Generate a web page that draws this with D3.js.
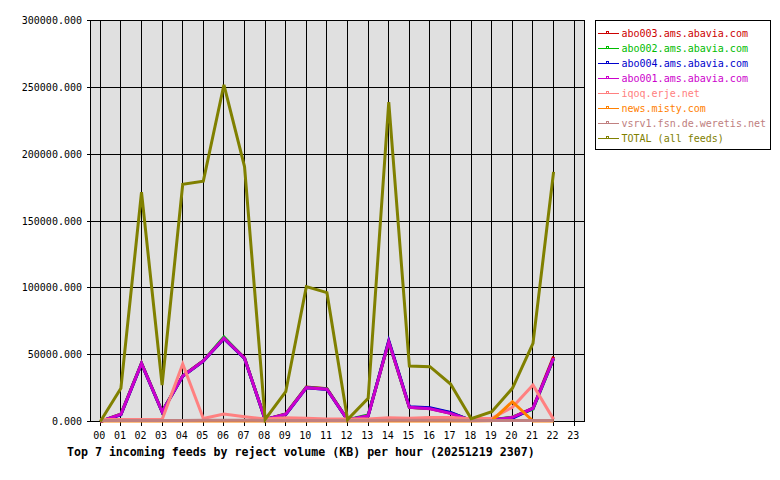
<!DOCTYPE html>
<html>
<head>
<meta charset="utf-8">
<script src="https://cdn.jsdelivr.net/npm/d3@7"></script>
<style>
  html, body { margin: 0; padding: 0; background: #fff; }
  svg { display: block; }
  text { font-family: "DejaVu Sans Mono", "Liberation Mono", monospace; }
</style>
</head>
<body>
<svg id="chart" width="780" height="480"></svg>
<script>
// ---- data ----
const hours = ["00","01","02","03","04","05","06","07","08","09","10","11","12","13","14","15","16","17","18","19","20","21","22","23"];
const feedNames = ["abo003.ams.abavia.com","abo002.ams.abavia.com","abo004.ams.abavia.com","abo001.ams.abavia.com","iqoq.erje.net","news.misty.com","vsrv1.fsn.de.weretis.net","TOTAL (all feeds)"];
const feedColors = ["#cc0000","#00bb00","#0000cc","#cc00cc","#ff8080","#ff8000","#c08080","#808000"];
const yTicks = [0, 50000, 100000, 150000, 200000, 250000, 300000];

const abo003 = [0, 5400, 43600, 7300, 34200, 45500, 62300, 47600, 1500, 5600, 25800, 24500, 1200, 4400, 59800, 10700, 9700, 6200, 800, 1200, 3100, 10000, 48500];
const abo002 = [0, 5500, 43500, 7400, 34000, 45300, 63200, 47100, 1600, 5500, 25500, 24300, 1300, 4800, 59600, 10600, 9800, 6500, 900, 1300, 3200, 9200, 47000];
const abo004 = [0, 5000, 43300, 7100, 33800, 45200, 62000, 47200, 1400, 5200, 25200, 24000, 1100, 4200, 60500, 11000, 10200, 6800, 700, 1100, 2400, 9800, 47100];
const abo001 = [0, 5400, 43500, 7300, 34000, 45300, 62300, 47300, 1500, 5400, 25300, 24100, 1200, 4300, 59700, 10600, 9600, 6100, 800, 1200, 3100, 9900, 47300];
const iqoq   = [1500, 1500, 1500, 1500, 43000, 2200, 5600, 3600, 1900, 2800, 2400, 1900, 1900, 1900, 2800, 2500, 3000, 3000, 2000, 2400, 10600, 27300, 1600];
const misty  = [300, 300, 300, 300, 300, 300, 300, 300, 300, 300, 300, 300, 300, 300, 300, 300, 300, 300, 300, 600, 14800, 300, 300];
const vsrv1  = [800, 800, 800, 800, 800, 900, 900, 900, 800, 800, 800, 800, 800, 800, 900, 900, 900, 900, 800, 800, 800, 800, 800];
const total  = [0, 24900, 171500, 27300, 177500, 179800, 251900, 190700, 1500, 22300, 100900, 96400, 1500, 17400, 238900, 41500, 41000, 28000, 2100, 7300, 24800, 58500, 186700];

const series = [abo003, abo002, abo004, abo001, iqoq, misty, vsrv1, total];
const title = "Top 7 incoming feeds by reject volume (KB) per hour (20251219 2307)";

// ---- chart ----
const svg = d3.select("#chart");
const x = d3.scaleLinear().domain([-0.5, 23.5]).range([90, 584.5]);
const y = d3.scaleLinear().domain([0, 300000]).range([421.5, 20.5]);
const px = v => Math.floor(v) + 0.5;

// plot background
svg.append("rect")
  .attr("x", px(x(-0.5))).attr("y", px(y(300000)))
  .attr("width", px(x(23.5)) - px(x(-0.5)))
  .attr("height", px(y(0)) - px(y(300000)))
  .attr("fill", "#e0e0e0");

// grid
const g = svg.append("g").attr("stroke", "#000").attr("stroke-width", 1).attr("shape-rendering", "crispEdges");
hours.forEach((h, i) => {
  g.append("line").attr("x1", px(x(i))).attr("x2", px(x(i)))
    .attr("y1", px(y(300000))).attr("y2", px(y(0)) + 4);
});
yTicks.forEach(t => {
  g.append("line").attr("x1", px(x(-0.5)) - 4).attr("x2", px(x(23.5)))
    .attr("y1", px(y(t))).attr("y2", px(y(t)));
});
// frame
g.append("line").attr("x1", px(x(-0.5))).attr("x2", px(x(-0.5))).attr("y1", px(y(300000))).attr("y2", px(y(0)));
g.append("line").attr("x1", px(x(23.5))).attr("x2", px(x(23.5))).attr("y1", px(y(300000))).attr("y2", px(y(0)));

// y labels
svg.append("g").selectAll("text").data(yTicks).join("text")
  .attr("x", 82).attr("y", d => y(d)).attr("dy", "0.35em")
  .attr("text-anchor", "end").attr("font-size", "10px").attr("fill", "#000")
  .text(d => d3.format(".3f")(d));

// x labels
svg.append("g").selectAll("text").data(hours).join("text")
  .attr("x", (d, i) => x(i) - 1).attr("y", 435).attr("dy", "0.35em")
  .attr("text-anchor", "middle").attr("font-size", "10px").attr("fill", "#000")
  .text(d => d);

// lines
const line = d3.line().x((d, i) => x(i)).y(d => y(d));
series.forEach((s, k) => {
  svg.append("path").datum(s)
    .attr("d", line)
    .attr("fill", "none")
    .attr("stroke", feedColors[k])
    .attr("stroke-width", 3)
    .attr("stroke-linejoin", "miter");
});

// title
svg.append("text").attr("x", 67).attr("y", 452).attr("dy", "0.35em")
  .attr("font-size", "11.6px").attr("font-weight", "bold").attr("fill", "#000")
  .text(title);

// legend
svg.append("rect").attr("x", 595.5).attr("y", 20.5).attr("width", 175).attr("height", 129)
  .attr("fill", "#fff").attr("stroke", "#000").attr("stroke-width", 1).attr("shape-rendering", "crispEdges");
const lg = svg.append("g");
feedNames.forEach((n, i) => {
  const yy = 33.5 + i * 15;
  lg.append("line").attr("x1", 598).attr("x2", 619).attr("y1", yy).attr("y2", yy)
    .attr("stroke", feedColors[i]).attr("stroke-width", 1).attr("shape-rendering", "crispEdges");
  lg.append("rect").attr("x", 606.5).attr("y", yy - 2).attr("width", 2).attr("height", 2)
    .attr("fill", "none").attr("stroke", feedColors[i]).attr("stroke-width", 1).attr("shape-rendering", "crispEdges");
  lg.append("text").attr("x", 621.5).attr("y", yy).attr("dy", "0.35em")
    .attr("font-size", "10px").attr("fill", feedColors[i]).text(n);
});
</script>
</body>
</html>
